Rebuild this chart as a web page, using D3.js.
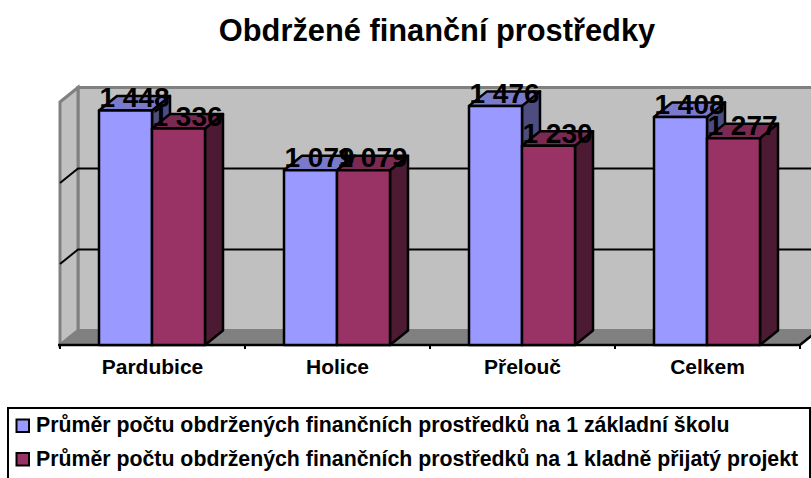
<!DOCTYPE html>
<html lang="cs">
  <head>
    <meta charset="UTF-8" />
    <title>Obdržené finanční prostředky</title>
    <script src="https://d3js.org/d3.v7.min.js"></script>
    <style>
      body {
        margin: 0;
        background: #fff;
      }
      svg {
        display: block;
        font-family: "Liberation Sans", Arial, sans-serif;
      }
      .title {
        font-size: 30.8px;
        font-weight: bold;
      }
      .cat text {
        font-size: 21px;
        font-weight: bold;
        fill: #000;
      }
      .legend text {
        font-size: 21.3px;
        font-weight: bold;
      }
      .value {
        font-size: 28px;
        font-weight: bold;
        text-anchor: middle;
      }
    </style>
  </head>
  <body>
    <svg width="811" height="478"></svg>

    <script>
      const categories = ["Pardubice", "Holice", "Přelouč", "Celkem"];
      const seriesNames = [
        "Průměr počtu obdržených finančních prostředků na 1 základní školu",
        "Průměr počtu obdržených finančních prostředků na 1 kladně přijatý projekt",
      ];
      const schoolValues = [1448, 1079, 1476, 1408];
      const projectValues = [1336, 1079, 1230, 1277];
      const gridValues = [0, 500, 1000, 1500];
      const seriesValues = [schoolValues, projectValues];
      const seriesColors = [
        { front: "#9999ff", top: "#7a7acc", side: "#4d4d80" },
        { front: "#993366", top: "#7a2952", side: "#4d1a33" },
      ];

      const svg = d3.select("svg");

      // hloubka 3D efektu
      const depthX = 18;
      const depthY = -14.5;
      const floorY = 345;

      const x0 = d3.scaleBand().domain(categories).range([60, 800]);
      const x1 = d3.scaleBand().domain([0, 1]).range([39, 145]);
      const y = d3.scaleLinear().domain([0, 1500]).range([floorY, 102]);

      const poly = (pts) => d3.line()(pts) + "Z";
      const left = x0.range()[0];
      const right = x0.range()[1];

      // zadní stěna, boční stěna a podlaha
      svg
        .append("path")
        .attr("d", poly([
          [left + depthX, y(1500) + depthY],
          [830, y(1500) + depthY],
          [830, y(0) + depthY],
          [left + depthX, y(0) + depthY],
        ]))
        .attr("fill", "#c0c0c0")
        .attr("stroke", "#808080")
        .attr("stroke-width", 3);

      svg
        .append("path")
        .attr("d", poly([
          [left, y(1500)],
          [left + depthX, y(1500) + depthY],
          [left + depthX, y(0) + depthY],
          [left, y(0)],
        ]))
        .attr("fill", "#c0c0c0")
        .attr("stroke", "#808080")
        .attr("stroke-width", 3);

      svg
        .append("path")
        .attr("d", poly([
          [left, y(0)],
          [left + depthX, y(0) + depthY],
          [right + depthX, y(0) + depthY],
          [right, y(0)],
        ]))
        .attr("fill", "#808080");

      // mřížka
      const grid = svg.append("g").attr("stroke", "#000").attr("stroke-width", 2).attr("fill", "none");
      gridValues.slice(1, 3).forEach((v) => {
        grid.append("path").attr("d", d3.line()([
          [left, y(v)],
          [left + depthX, y(v) + depthY],
          [811, y(v) + depthY],
        ]));
      });

      // osa x
      const axisLine = svg.append("g").attr("stroke", "#000").attr("stroke-width", 2.5).attr("fill", "none");
      axisLine.append("path").attr("d", d3.line()([
        [left - 2, floorY],
        [right, floorY],
        [right + depthX, floorY + depthY],
      ]));
      [...categories.map((c) => x0(c)), right].forEach((t) => {
        axisLine.append("line").attr("x1", t).attr("x2", t).attr("y1", floorY).attr("y2", floorY + 4).attr("stroke-width", 2);
      });

      const catAxis = svg
        .append("g")
        .attr("class", "cat")
        .attr("transform", `translate(0,${floorY})`)
        .call(d3.axisBottom(x0).tickSize(0).tickPadding(14));
      catAxis.select(".domain").remove();
      catAxis.selectAll("text").attr("font-family", null).attr("font-size", null);

      // sloupce
      const bars = svg.append("g").attr("stroke", "#000").attr("stroke-width", 2.5).attr("stroke-linejoin", "round");
      categories.forEach((cat, i) => {
        seriesValues.forEach((values, s) => {
          const xa = x0(cat) + x1(s);
          const xb = xa + x1.bandwidth();
          const top = y(values[i]);
          const c = seriesColors[s];
          bars.append("path").attr("fill", c.side).attr("d", poly([
            [xb, top],
            [xb + depthX, top + depthY],
            [xb + depthX, floorY + depthY],
            [xb, floorY],
          ]));
          bars.append("path").attr("fill", c.top).attr("d", poly([
            [xa, top],
            [xa + depthX, top + depthY],
            [xb + depthX, top + depthY],
            [xb, top],
          ]));
          bars.append("rect")
            .attr("x", xa)
            .attr("y", top)
            .attr("width", xb - xa)
            .attr("height", floorY - top)
            .attr("fill", c.front);
        });
      });

      // popisky hodnot
      const fmt = (v) => d3.format(",")(v).replace(",", "\u00a0");
      categories.forEach((cat, i) => {
        seriesValues.forEach((values, s) => {
          svg.append("text")
            .attr("class", "value")
            .attr("x", x0(cat) + x1(s) + x1.bandwidth() / 2 + depthX / 2)
            .attr("y", y(values[i]) - 3)
            .text(fmt(values[i]));
        });
      });

      // titulek
      svg.append("text")
        .attr("class", "title")
        .attr("x", 437)
        .attr("y", 41)
        .attr("text-anchor", "middle")
        .text("Obdržené finanční prostředky");

      // legenda
      const legend = svg.append("g").attr("class", "legend");
      legend.append("rect")
        .attr("x", 8).attr("y", 408).attr("width", 802).attr("height", 80)
        .attr("fill", "#fff").attr("stroke", "#000").attr("stroke-width", 2);
      seriesNames.forEach((name, s) => {
        legend.append("rect")
          .attr("x", 16.5).attr("y", 419.5 + s * 33.5).attr("width", 12.5).attr("height", 12.5)
          .attr("fill", seriesColors[s].front).attr("stroke", "#000").attr("stroke-width", 2);
        legend.append("text")
          .attr("x", 36).attr("y", 432 + s * 33.5)
          .text(name);
      });
    </script>
  </body>
</html>
